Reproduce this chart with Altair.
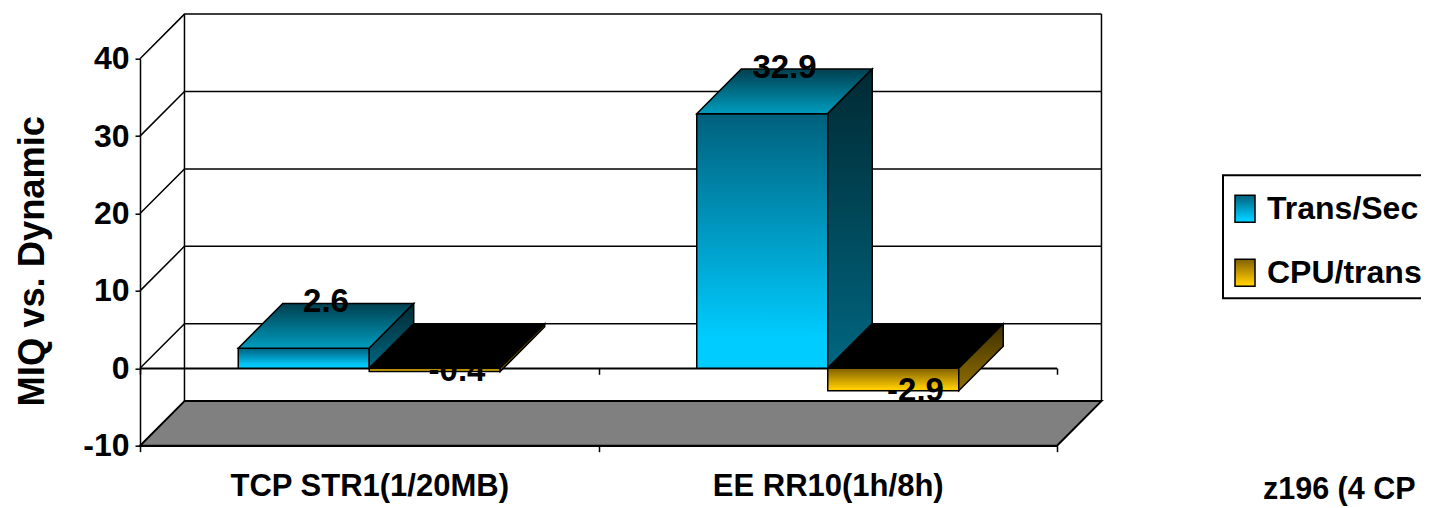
import json
import altair as alt
import pandas as pd

CATEGORIES = ["TCP STR1(1/20MB)", "EE RR10(1h/8h)"]
SERIES = ["Trans/Sec", "CPU/trans"]
TRANS_SEC = [2.6, 32.9]
CPU_TRANS = [-0.4, -2.9]
Y_TICKS = [-10, 0, 10, 20, 30, 40]
BAR_WIDTH = 1 / 3.5
DEPTH_X = 0.097
DEPTH_Y = 5.76
LABEL_LIFT = 5.96

SANS = "Liberation Sans"
STROKE = 1.5


def grad(*stops):
    return alt.LinearGradient(
        gradient="linear", x1=0, y1=0, x2=0, y2=1,
        stops=[alt.GradientStop(offset=o, color=c) for o, c in stops],
    )


def grad_expr(*stops):
    body = ",".join("{offset:%s,color:'%s'}" % s for s in stops)
    return {"expr": "{gradient:'linear',x1:0,y1:0,x2:0,y2:1,stops:[%s]}" % body}


XS = alt.Scale(domain=[0, 2], nice=False, zero=False)
YS = alt.Scale(domain=[-10, 40], nice=False, zero=False)
X = alt.X("x:Q", scale=XS, axis=None, title=None)
Y = alt.Y("y:Q", scale=YS, axis=None, title=None)

# one row per bar
bars = []
for c in range(2):
    mid = c + 0.5
    bars.append(dict(cat=CATEGORIES[c], series=SERIES[0], value=TRANS_SEC[c], x0=mid - BAR_WIDTH, x1=mid))
    bars.append(dict(cat=CATEGORIES[c], series=SERIES[1], value=CPU_TRANS[c], x0=mid, x1=mid + BAR_WIDTH))


def side_face(b):
    lo, hi = min(0, b["value"]), max(0, b["value"])
    return pd.DataFrame([
        dict(x=b["x1"], y=hi, y2=lo),
        dict(x=b["x1"] + DEPTH_X, y=hi + DEPTH_Y, y2=lo + DEPTH_Y),
    ])


def top_face(b):
    hi = max(0, b["value"])
    return pd.DataFrame([
        dict(y=hi, x=b["x0"], x2=b["x1"]),
        dict(y=hi + DEPTH_Y, x=b["x0"] + DEPTH_X, x2=b["x1"] + DEPTH_X),
    ])


def vertical(df, fill):
    return alt.Chart(df).mark_area(color=fill, stroke="black", strokeWidth=STROKE, opacity=1).encode(
        x=X, y=Y, y2="y2:Q")


def horizontal(df, fill):
    return alt.Chart(df).mark_area(color=fill, orient="horizontal", stroke="black", strokeWidth=STROKE, opacity=1).encode(
        y=Y, x=X, x2="x2:Q")


# back wall and left wall
grid_rows = []
for v in Y_TICKS[1:]:
    grid_rows += [
        dict(v=v, o=0, x=0, y=v),
        dict(v=v, o=1, x=DEPTH_X, y=v + DEPTH_Y),
        dict(v=v, o=2, x=2 + DEPTH_X, y=v + DEPTH_Y),
    ]
grid = alt.Chart(pd.DataFrame(grid_rows)).mark_line(color="black", strokeWidth=1.5).encode(
    x=X, y=Y, detail="v:N", order="o:Q")

walls = alt.Chart(pd.DataFrame([
    dict(w=0, x=DEPTH_X, y=-10 + DEPTH_Y),
    dict(w=0, x=DEPTH_X, y=40 + DEPTH_Y),
    dict(w=1, x=2 + DEPTH_X, y=-10 + DEPTH_Y),
    dict(w=1, x=2 + DEPTH_X, y=40 + DEPTH_Y),
])).mark_line(color="black", strokeWidth=1.5).encode(x=X, y=Y, detail="w:N")

floor = alt.Chart(pd.DataFrame([
    dict(y=-10, x=0, x2=2),
    dict(y=-10 + DEPTH_Y, x=DEPTH_X, x2=2 + DEPTH_X),
])).mark_area(color="#808080", orient="horizontal", stroke="black", strokeWidth=2, opacity=1).encode(
    y=alt.Y("y:Q", scale=YS, title=None, axis=alt.Axis(
        orient="left", values=Y_TICKS, labelExpr="'' + datum.value", title="MIQ vs. Dynamic", titleFont=SANS,
        titleFontWeight="bold", titleFontSize=36.3, titleColor="black", titleAngle=270, titleX=-97, titleY=202,
        titleAlign="center", titleBaseline="alphabetic",
        labelFont=SANS, labelFontWeight="bold", labelFontSize=32, labelColor="black", labelPadding=6,
        tickSize=5, tickWidth=1.5, tickColor="black", domainColor="black", domainWidth=1.5, grid=False)),
    x=alt.X("x:Q", scale=XS, title=None, axis=alt.Axis(
        orient="bottom", values=[0, 1, 2], labels=False, tickSize=6, tickWidth=1.5, tickColor="black",
        domainColor="black", domainWidth=1.5, grid=False, title=None)),
    x2="x2:Q",
)

# zero plane axis (carried by a line along y = 0)
zero_axis = alt.Chart(pd.DataFrame([dict(x=0, y=0), dict(x=2, y=0)])).mark_line(
    color="black", strokeWidth=1.5).encode(
    x=alt.X("x:Q", scale=XS, title=None, axis=alt.Axis(
        orient="bottom", values=[0, 1, 2], labels=False, tickSize=6, tickWidth=1.5, tickColor="black",
        offset=-77.4, domainColor="black", domainWidth=1.5, grid=False, title=None)),
    y=Y,
)

# category labels
label_expr = "datum.value < 1 ? %s : %s" % (json.dumps(CATEGORIES[0]), json.dumps(CATEGORIES[1]))
cat_axis = alt.Chart(pd.DataFrame([dict(x=0.5, y=-10), dict(x=1.5, y=-10)])).mark_point(opacity=0).encode(
    x=alt.X("x:Q", scale=XS, title=None, axis=alt.Axis(
        orient="bottom", values=[0.5, 1.5], labelExpr=label_expr, ticks=False, domain=False, grid=False,
        title=None, labelFont=SANS, labelFontWeight="bold", labelFontSize=31, labelColor="black",
        labelPadding=26, labelLimit=500)),
    y=Y,
)

# front faces: the real bars, coloured through the series scale
front = alt.Chart(pd.DataFrame(bars)).mark_bar(stroke="black", strokeWidth=STROKE, opacity=1).encode(
    x=alt.X("x0:Q", scale=XS, axis=None, title=None),
    x2="x1:Q",
    y=alt.Y("value:Q", scale=YS, axis=None, title=None),
    y2=alt.Y2(datum=0),
    color=alt.Color("series:N", scale=alt.Scale(
        domain=SERIES,
        range=[grad_expr((0, "#00607c"), (0.88, "#00ccff"), (1, "#00ccff")),
               grad_expr((0, "#806000"), (0.9, "#ffcc00"), (1, "#ffcc00"))]),
        legend=alt.Legend(
            orient="none", legendX=1083, legendY=116.5, title=None, direction="vertical",
            fillColor="white", strokeColor="black", padding=8.5, rowPadding=22,
            symbolType="M-0.896,-0.5625H-0.062V0.5625H-0.896Z", symbolSize=2304, symbolStrokeColor="black",
            symbolStrokeWidth=1.5, symbolOpacity=1, labelFont=SANS, labelFontWeight="bold", labelFontSize=32,
            labelColor="black", labelLimit=400, labelOffset={"expr": "-14.5"})),
)

layers = [grid, walls, floor, zero_axis, cat_axis]

TOP_TRANS = grad((0, "#004050"), (1, "#009cbe"))
SIDE_TRANS = grad((0, "#002a33"), (1, "#006680"))
SIDE_CPU = grad((0, "#403000"), (1, "#8f6f00"))
layers.append(front)
for b in bars:
    if b["series"] == SERIES[0]:
        layers.append(horizontal(top_face(b), TOP_TRANS))
        layers.append(vertical(side_face(b), SIDE_TRANS))
    else:
        layers.append(horizontal(top_face(b), "#000000"))
        layers.append(vertical(side_face(b), SIDE_CPU))

label_rows = []
for b in bars:
    lifted = b["value"] + LABEL_LIFT if b["value"] > 0 else b["value"]
    label_rows.append(dict(x=(b["x0"] + b["x1"]) / 2 + DEPTH_X / 2, y=lifted, text=str(b["value"])))
value_labels = alt.Chart(pd.DataFrame(label_rows)).mark_text(
    font=SANS, fontWeight="bold", fontSize=33, color="black", baseline="middle", align="center").encode(
    x=X, y=Y, text="text:N")
layers.append(value_labels)

note = alt.Chart(pd.DataFrame([dict(text="z196 (4 CP")])).mark_text(
    font=SANS, fontWeight="bold", fontSize=30.5, color="black", align="left", baseline="alphabetic").encode(
    x=alt.value(1123), y=alt.value(440), text="text:N")
layers.append(note)

chart = alt.layer(*layers).resolve_axis(x="independent", y="independent").properties(
    width=917, height=387,
    padding={"left": 132, "top": 50.7, "right": 364, "bottom": 62.3},
    autosize=alt.AutoSizeParams(type="none"),
    background="white",
).configure_view(stroke=None).configure_legend(strokeWidth=2)

chart.save("out.html", embed_options={"renderer": "svg", "actions": False})
